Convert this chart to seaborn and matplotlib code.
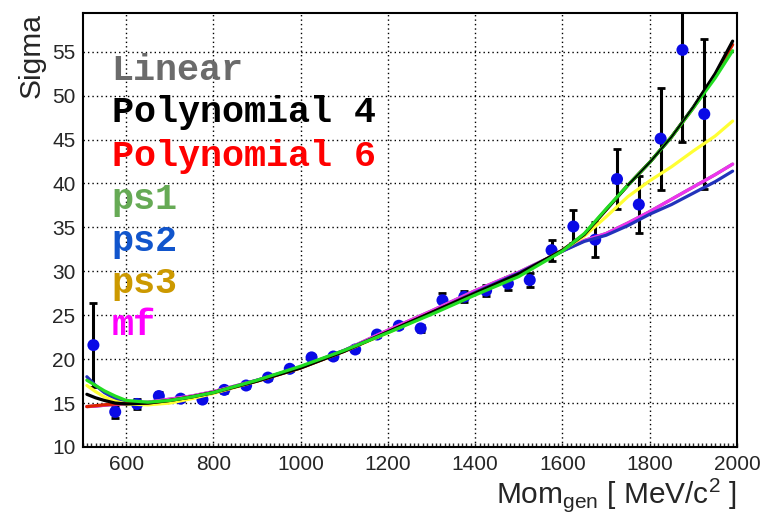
import numpy as np
import pandas as pd
import matplotlib
matplotlib.use("Agg")
import matplotlib.pyplot as plt
import seaborn as sns
from matplotlib.ticker import MultipleLocator

# ---------------- data ----------------
mom = [525, 575, 625, 675, 725, 775, 825, 875, 925, 975, 1025, 1075, 1125, 1175,
       1225, 1275, 1325, 1375, 1425, 1475, 1525, 1575, 1625, 1675, 1725, 1775,
       1825, 1875, 1925]
sigma = [21.6, 14.0, 14.9, 15.8, 15.5, 15.4, 16.5, 17.0, 17.9, 18.9, 20.2, 20.3,
         21.1, 22.8, 23.8, 23.5, 26.7, 27.1, 27.8, 28.6, 29.0, 32.4, 35.1, 33.6,
         40.5, 37.6, 45.1, 55.2, 47.9]
sigma_err = [4.8, 0.7, 0.6, 0.5, 0.3, 0.3, 0.3, 0.3, 0.3, 0.3, 0.3, 0.3, 0.3, 0.3,
             0.3, 0.4, 0.8, 0.6, 0.6, 0.7, 0.8, 1.2, 1.9, 2.0, 3.4, 3.2, 5.8, 10.5, 8.5]

fit_x = [510, 530, 550, 575, 600, 650, 700, 750, 800, 900, 1000, 1100, 1200, 1300,
         1400, 1500, 1600, 1650, 1700, 1750, 1800, 1850, 1900, 1950, 1990]
fit_linear = [14.6, 14.65, 14.75, 14.85, 14.95, 15.1, 15.45, 15.8, 16.3, 17.6, 19.05,
              21.0, 23.3, 25.5, 27.8, 29.9, 32.3, 33.5, 34.3, 35.5, 36.8, 38.2, 39.6,
              41.0, 42.2]
fit_poly4 = [16.0, 15.6, 15.3, 15.0, 14.9, 15.0, 15.3, 15.7, 16.2, 17.5, 19.0, 20.9,
             23.1, 25.3, 27.5, 29.7, 32.4, 34.2, 37.0, 39.8, 42.4, 45.3, 48.7, 52.5, 56.2]
fit_poly6 = [14.6, 14.7, 14.8, 14.9, 14.95, 15.0, 15.3, 15.7, 16.2, 17.5, 19.0, 20.9,
             23.1, 25.3, 27.5, 29.6, 32.4, 34.2, 37.0, 39.8, 42.4, 45.3, 48.6, 52.3, 55.8]
fit_ps1 = [17.6, 17.0, 16.4, 15.8, 15.3, 15.1, 15.3, 15.7, 16.2, 17.6, 19.2, 21.0,
           23.0, 25.1, 27.3, 29.4, 32.3, 34.3, 37.1, 39.8, 42.4, 45.3, 48.6, 52.0, 55.1]
fit_ps2 = [18.0, 17.0, 16.2, 15.5, 15.0, 14.9, 15.2, 15.7, 16.2, 17.6, 19.1, 21.0,
           23.1, 25.3, 27.6, 29.8, 32.3, 33.4, 34.1, 35.2, 36.5, 37.6, 38.9, 40.2, 41.4]
fit_ps3 = [17.0, 16.3, 15.7, 15.2, 14.9, 14.8, 15.0, 15.5, 16.1, 17.5, 19.0, 20.9,
           23.0, 25.2, 27.4, 29.6, 32.4, 34.0, 36.2, 38.5, 40.3, 41.9, 43.7, 45.4, 47.1]
fit_mf = [14.6, 14.65, 14.75, 14.85, 14.95, 15.1, 15.45, 15.8, 16.3, 17.6, 19.05,
          21.0, 23.3, 25.5, 27.8, 29.9, 32.3, 33.5, 34.3, 35.5, 36.8, 38.2, 39.6,
          41.0, 42.2]

labels = ["Linear", "Polynomial 4", "Polynomial 6", "ps1", "ps2", "ps3", "mf"]
label_colors = ["#6b6b6b", "#000000", "#ff0000", "#66aa55", "#1155cc", "#cc9900", "#ff00ff"]
curve_colors = ["#777777", "#000000", "#dd2200", "#22dd22", "#2233bb", "#ffff33", "#ee33ee"]
curves = [fit_linear, fit_poly4, fit_poly6, fit_ps1, fit_ps2, fit_ps3, fit_mf]

# ---------------- style ----------------
sns.set_style("white")
plt.rcParams["font.family"] = ["Liberation Sans", "DejaVu Sans"]
plt.rcParams["mathtext.default"] = "regular"

fig = plt.figure(figsize=(7.61, 5.17), dpi=100)
ax = fig.add_axes([82.5 / 761, 70 / 517, 654.5 / 761, 434 / 517])

df_pts = pd.DataFrame({"mom": mom, "sigma": sigma, "err": sigma_err})
ax.errorbar(df_pts["mom"], df_pts["sigma"], yerr=df_pts["err"], fmt="none",
            ecolor="black", elinewidth=2.2, capsize=3, capthick=2, zorder=3)
sns.scatterplot(data=df_pts, x="mom", y="sigma", color="#0a0ae6", s=75,
                edgecolor="none", ax=ax, zorder=4)

for i in [0, 6, 4, 5, 2, 1, 3]:
    sns.lineplot(x=fit_x, y=curves[i], color=curve_colors[i], linewidth=2.3,
                 ax=ax, zorder=5, sort=False, estimator=None)
# black edge visible above ps1 at the top end
sns.lineplot(x=fit_x[-6:], y=fit_poly4[-6:], color="#000000", linewidth=1.3,
             ax=ax, zorder=5, sort=False, estimator=None)

ax.set_xlim(500, 2000)
ax.set_ylim(10, 59.4)

# ticks
ax.xaxis.set_major_locator(MultipleLocator(200))
ax.xaxis.set_minor_locator(MultipleLocator(50))
ax.yaxis.set_major_locator(MultipleLocator(5))
ax.yaxis.set_minor_locator(MultipleLocator(1))
ax.tick_params(axis="both", which="both", direction="in", top=False, right=False,
               color="black", width=1.3)
ax.tick_params(axis="x", which="major", length=13, labelsize=15, pad=6)
ax.tick_params(axis="x", which="minor", length=7)
ax.tick_params(axis="y", which="major", length=17, labelsize=15, pad=5)
ax.tick_params(axis="y", which="minor", length=8)

sec = ax.secondary_xaxis("bottom")
sec.xaxis.set_major_locator(MultipleLocator(10))
sec.tick_params(axis="x", which="major", direction="in", length=3, width=1,
                labelbottom=False)
sec.spines["bottom"].set_visible(False)

ax.grid(True, which="major", color="black", linestyle=(0, (1, 2.2)), linewidth=1.0)
for s in ax.spines.values():
    s.set_color("black")
    s.set_linewidth(1.5)

ax.set_ylabel("Sigma", fontsize=21.5, loc="top", labelpad=5)
ax.set_xlabel(r"Mom$_{gen}$ [ MeV/c$^{2}$ ]", fontsize=21.5, loc="right", labelpad=1)

# legend-like texts
baselines = [79.5, 122, 165.5, 209, 251, 293, 335]
for lab, col, yb in zip(labels, label_colors, baselines):
    ax.text((111.7 - 82.5) / 654.5, (447 - yb) / 434, lab, transform=ax.transAxes,
            family=["Liberation Mono", "DejaVu Sans Mono"], fontweight="bold",
            fontsize=26.5, color=col, va="baseline", ha="left", zorder=6)

fig.savefig("out.png", dpi=100)
